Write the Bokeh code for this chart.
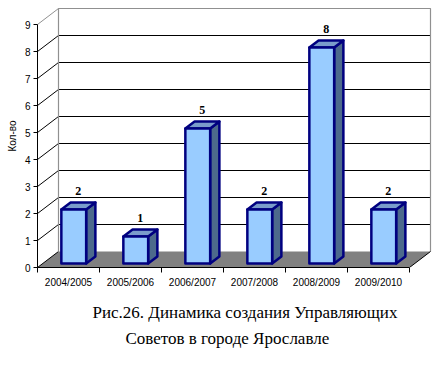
from bokeh.plotting import figure
from bokeh.models import Range1d, FixedTicker, Title
from bokeh.core.properties import value
from bokeh.embed import file_html
from bokeh.resources import INLINE

# ---- data ----
categories = ["2004/2005", "2005/2006", "2006/2007", "2007/2008", "2008/2009", "2009/2010"]
counts = [2, 1, 5, 2, 8, 2]
y_ticks = [0, 1, 2, 3, 4, 5, 6, 7, 8, 9]
y_label = "Кол-во"
caption1 = "Рис.26. Динамика создания Управляющих"
caption2 = "Советов в городе  Ярославле"

# ---- 3D oblique projection parameters (in data units) ----
n = len(categories)
ymax = 9
DX = 21 / 62.0      # depth shift in category units
DY = 16 / 27.0      # depth shift in value units
D0, D1 = 0.25, 0.69 # bar depth extent (fraction of depth)
BW = 0.40           # bar width (category units)

p = figure(width=448, height=365, output_backend="svg", toolbar_location=None,
           x_range=Range1d(0, 404 / 62.0), y_range=Range1d(0, 263 / 27.0),
           min_border_left=37, min_border_right=7, min_border_top=4, min_border_bottom=98)
p.background_fill_color = "white"
p.border_fill_color = "white"
p.outline_line_color = None
p.grid.visible = False

# floor
p.patch([0, n, n + DX, DX], [0, 0, DY, DY], fill_color="#808080", line_color=None)
# back wall grid lines
p.segment(x0=[DX] * (ymax - 1), y0=[v + DY for v in y_ticks[1:-1]],
          x1=[n + DX] * (ymax - 1), y1=[v + DY for v in y_ticks[1:-1]],
          line_color="black", line_width=1.2)
# side-wall diagonals
p.segment(x0=[0] * ymax, y0=y_ticks[:-1], x1=[DX] * ymax, y1=[v + DY for v in y_ticks[:-1]],
          line_color="black", line_width=1)
p.segment(x0=[0], y0=[ymax], x1=[DX], y1=[ymax + DY], line_color="#909090", line_width=1)
# back wall outline
p.line([DX, DX, n + DX, n + DX], [DY, ymax + DY, ymax + DY, DY], line_color="#909090", line_width=1.2)
# floor right edge
p.segment(x0=[n], y0=[0], x1=[n + DX], y1=[DY], line_color="black", line_width=1)

# bars
for i, v in enumerate(counts):
    L = i + 0.5 - BW / 2 + D0 * DX
    R = L + BW
    B = D0 * DY
    T = v + D0 * DY
    ddx = (D1 - D0) * DX
    ddy = (D1 - D0) * DY
    p.patch([R, R + ddx, R + ddx, R], [B, B + ddy, T + ddy, T],
            fill_color="#4D6A8C", line_color="#000080", line_width=2.5, line_join="round")
    p.patch([L, R, R + ddx, L + ddx], [T, T, T + ddy, T + ddy],
            fill_color="#7A9CCB", line_color="#000080", line_width=2.5, line_join="round")
    p.quad(left=[L], right=[R], bottom=[B], top=[T],
           fill_color="#99CCFF", line_color="#000080", line_width=2.5, line_join="round")

# data labels
lx = [i + 0.5 + (D0 + D1) / 2 * DX for i in range(n)]
ly = [v + D1 * DY for v in counts]
p.text(x=lx, y=ly, text=[str(v) for v in counts], y_offset=-7,
       text_align="center", text_baseline="bottom",
       text_font=value("Liberation Sans Narrow"), text_font_style="bold",
       text_font_size="12px", text_color="black")

# axes
yax = p.yaxis[0]
yax.ticker = FixedTicker(ticks=y_ticks)
yax.bounds = (0, ymax)
yax.axis_line_color = "black"
yax.major_tick_in = 0
yax.major_tick_out = 4
yax.minor_tick_line_color = None
yax.major_label_standoff = 3
yax.major_label_text_font = "Liberation Sans"
yax.major_label_text_font_size = "10px"
yax.major_label_text_color = "black"
yax.axis_label = y_label
yax.axis_label_standoff = 4
yax.axis_label_text_font = "Liberation Sans"
yax.axis_label_text_font_size = "10px"
yax.axis_label_text_font_style = "normal"
yax.axis_label_text_color = "black"

xax = p.xaxis[0]
xax.ticker = FixedTicker(ticks=[i + 0.5 for i in range(n)], minor_ticks=list(range(n + 1)))
xax.major_label_overrides = {i + 0.5: c for i, c in enumerate(categories)}
xax.bounds = (0, n)
xax.axis_line_color = "black"
xax.major_tick_line_color = None
xax.major_tick_in = 0
xax.major_tick_out = 0
xax.minor_tick_in = 0
xax.minor_tick_out = 5
xax.minor_tick_line_color = "black"
xax.major_label_standoff = 4
xax.major_label_text_font = "Liberation Sans"
xax.major_label_text_font_size = "10px"
xax.major_label_text_color = "black"

# caption
t1 = Title(text=caption1, align="left", offset=55, standoff=20,
           text_font="Liberation Serif", text_font_size="17px", text_font_style="normal",
           text_color="black")
t2 = Title(text=caption2, align="left", offset=88, standoff=-10,
           text_font="Liberation Serif", text_font_size="17px", text_font_style="normal",
           text_color="black")
p.add_layout(t1, "below")
p.add_layout(t2, "below")

open("out.html", "w").write(file_html(p, INLINE))
